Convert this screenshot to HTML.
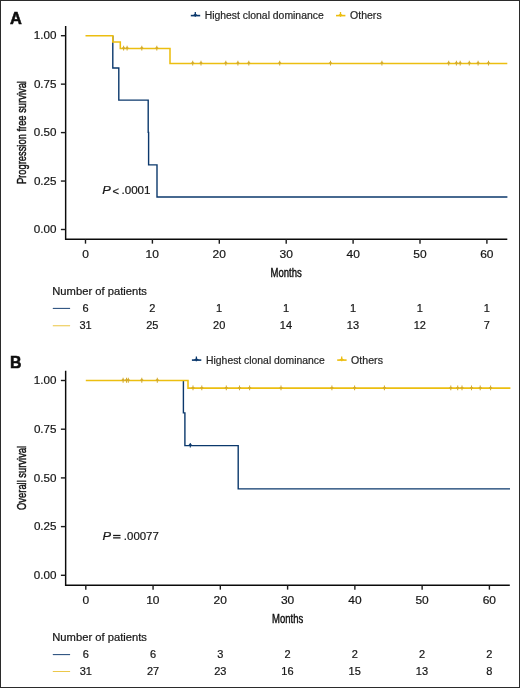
<!DOCTYPE html>
<html><head><meta charset="utf-8"><style>
html,body{margin:0;padding:0;background:#fff;}
body{width:520px;height:688px;overflow:hidden;}
svg{display:block;font-family:"Liberation Sans", sans-serif;will-change:transform;}
</style></head><body>
<svg width="520" height="688" viewBox="0 0 520 688">
<rect x="0" y="0" width="520" height="688" fill="#fff"/>
<text transform="translate(9.89,23.50) scale(1.006,1)" font-size="16.3" font-weight="bold" fill="#0d0d0d" stroke="#0d0d0d" stroke-width="0.55">A</text>
<path d="M65.65,26 V239.25 H507.3" fill="none" stroke="#0a0a0a" stroke-width="1.45"/>
<line x1="60.9" y1="35.70" x2="65.65" y2="35.70" stroke="#1a1a1a" stroke-width="1.4"/>
<text transform="translate(33.86,39.45) scale(1.070,1)" font-size="10.9" fill="#161616" stroke="#161616" stroke-width="0.2">1.00</text>
<line x1="60.9" y1="84.15" x2="65.65" y2="84.15" stroke="#1a1a1a" stroke-width="1.4"/>
<text transform="translate(33.89,87.90) scale(1.070,1)" font-size="10.9" fill="#161616" stroke="#161616" stroke-width="0.2">0.75</text>
<line x1="60.9" y1="132.60" x2="65.65" y2="132.60" stroke="#1a1a1a" stroke-width="1.4"/>
<text transform="translate(33.86,136.35) scale(1.070,1)" font-size="10.9" fill="#161616" stroke="#161616" stroke-width="0.2">0.50</text>
<line x1="60.9" y1="181.05" x2="65.65" y2="181.05" stroke="#1a1a1a" stroke-width="1.4"/>
<text transform="translate(33.89,184.80) scale(1.070,1)" font-size="10.9" fill="#161616" stroke="#161616" stroke-width="0.2">0.25</text>
<line x1="60.9" y1="229.50" x2="65.65" y2="229.50" stroke="#1a1a1a" stroke-width="1.4"/>
<text transform="translate(33.86,233.25) scale(1.070,1)" font-size="10.9" fill="#161616" stroke="#161616" stroke-width="0.2">0.00</text>
<line x1="85.50" y1="239.25" x2="85.50" y2="243.65" stroke="#1a1a1a" stroke-width="1.4"/>
<text transform="translate(82.17,257.70) scale(1.100,1)" font-size="10.9" fill="#161616" stroke="#161616" stroke-width="0.2">0</text>
<line x1="152.40" y1="239.25" x2="152.40" y2="243.65" stroke="#1a1a1a" stroke-width="1.4"/>
<text transform="translate(145.51,257.70) scale(1.100,1)" font-size="10.9" fill="#161616" stroke="#161616" stroke-width="0.2">10</text>
<line x1="219.30" y1="239.25" x2="219.30" y2="243.65" stroke="#1a1a1a" stroke-width="1.4"/>
<text transform="translate(212.56,257.70) scale(1.100,1)" font-size="10.9" fill="#161616" stroke="#161616" stroke-width="0.2">20</text>
<line x1="286.20" y1="239.25" x2="286.20" y2="243.65" stroke="#1a1a1a" stroke-width="1.4"/>
<text transform="translate(279.54,257.70) scale(1.100,1)" font-size="10.9" fill="#161616" stroke="#161616" stroke-width="0.2">30</text>
<line x1="353.10" y1="239.25" x2="353.10" y2="243.65" stroke="#1a1a1a" stroke-width="1.4"/>
<text transform="translate(346.53,257.70) scale(1.100,1)" font-size="10.9" fill="#161616" stroke="#161616" stroke-width="0.2">40</text>
<line x1="420.00" y1="239.25" x2="420.00" y2="243.65" stroke="#1a1a1a" stroke-width="1.4"/>
<text transform="translate(413.33,257.70) scale(1.100,1)" font-size="10.9" fill="#161616" stroke="#161616" stroke-width="0.2">50</text>
<line x1="486.90" y1="239.25" x2="486.90" y2="243.65" stroke="#1a1a1a" stroke-width="1.4"/>
<text transform="translate(480.16,257.70) scale(1.100,1)" font-size="10.9" fill="#161616" stroke="#161616" stroke-width="0.2">60</text>
<text transform="translate(286.20,276.7) scale(0.71,1)" text-anchor="middle" font-size="13.4" fill="#111" stroke="#111" stroke-width="0.45">Months</text>
<text transform="translate(25.75,132.60) rotate(-90) scale(0.70,1)" text-anchor="middle" font-size="13.4" fill="#111" stroke="#111" stroke-width="0.45">Progression free survival</text>
<line x1="190.8" y1="15.6" x2="200.20000000000002" y2="15.6" stroke="#0b386c" stroke-width="1.6"/>
<line x1="195.3" y1="12.0" x2="195.3" y2="16.8" stroke="#0b386c" stroke-width="1.3"/><path d="M192.60000000000002,15.6 L195.3,13.399999999999999 L198.0,15.6 Z" fill="#0b386c"/>
<text transform="translate(204.65,19.00) scale(1.001,1)" font-size="10.4" fill="#262626" stroke="#262626" stroke-width="0.2">Highest clonal dominance</text>
<line x1="336" y1="15.6" x2="345.4" y2="15.6" stroke="#ecbe10" stroke-width="1.6"/>
<line x1="340.5" y1="12.0" x2="340.5" y2="16.8" stroke="#ecbe10" stroke-width="1.3"/><path d="M337.8,15.6 L340.5,13.399999999999999 L343.2,15.6 Z" fill="#ecbe10"/>
<text transform="translate(350.00,19.00) scale(1.015,1)" font-size="10.4" fill="#262626" stroke="#262626" stroke-width="0.2">Others</text>
<path d="M112.8,35.7 V68 H118.8 V100.1 H148.2 V132.4 H148.6 V164.9 H157 V197 H507.4" fill="none" stroke="#0b386c" stroke-width="1.4"/>
<path d="M85.5,35.7 H112.8 V41.9 H120.3 V48.4 H170.0 V63.4 H507.3" fill="none" stroke="#ecbe10" stroke-width="1.55"/>
<path d="M123.6,45.699999999999996 V50.6 M122.19999999999999,48.4 L123.6,47.199999999999996 L125.0,48.4" stroke="#d4ab2c" stroke-width="1.05" fill="#e2b520"/>
<path d="M127.1,45.699999999999996 V50.6 M125.69999999999999,48.4 L127.1,47.199999999999996 L128.5,48.4" stroke="#d4ab2c" stroke-width="1.05" fill="#e2b520"/>
<path d="M141.8,45.699999999999996 V50.6 M140.4,48.4 L141.8,47.199999999999996 L143.20000000000002,48.4" stroke="#d4ab2c" stroke-width="1.05" fill="#e2b520"/>
<path d="M156.8,45.699999999999996 V50.6 M155.4,48.4 L156.8,47.199999999999996 L158.20000000000002,48.4" stroke="#d4ab2c" stroke-width="1.05" fill="#e2b520"/>
<path d="M192.7,60.699999999999996 V65.6 M191.29999999999998,63.4 L192.7,62.199999999999996 L194.1,63.4" stroke="#d4ab2c" stroke-width="1.05" fill="#e2b520"/>
<path d="M201,60.699999999999996 V65.6 M199.6,63.4 L201,62.199999999999996 L202.4,63.4" stroke="#d4ab2c" stroke-width="1.05" fill="#e2b520"/>
<path d="M225.8,60.699999999999996 V65.6 M224.4,63.4 L225.8,62.199999999999996 L227.20000000000002,63.4" stroke="#d4ab2c" stroke-width="1.05" fill="#e2b520"/>
<path d="M237.9,60.699999999999996 V65.6 M236.5,63.4 L237.9,62.199999999999996 L239.3,63.4" stroke="#d4ab2c" stroke-width="1.05" fill="#e2b520"/>
<path d="M248.8,60.699999999999996 V65.6 M247.4,63.4 L248.8,62.199999999999996 L250.20000000000002,63.4" stroke="#d4ab2c" stroke-width="1.05" fill="#e2b520"/>
<path d="M279.7,60.699999999999996 V65.6 M278.3,63.4 L279.7,62.199999999999996 L281.09999999999997,63.4" stroke="#d4ab2c" stroke-width="1.05" fill="#e2b520"/>
<path d="M330.5,60.699999999999996 V65.6 M329.1,63.4 L330.5,62.199999999999996 L331.9,63.4" stroke="#d4ab2c" stroke-width="1.05" fill="#e2b520"/>
<path d="M381.9,60.699999999999996 V65.6 M380.5,63.4 L381.9,62.199999999999996 L383.29999999999995,63.4" stroke="#d4ab2c" stroke-width="1.05" fill="#e2b520"/>
<path d="M448.7,60.699999999999996 V65.6 M447.3,63.4 L448.7,62.199999999999996 L450.09999999999997,63.4" stroke="#d4ab2c" stroke-width="1.05" fill="#e2b520"/>
<path d="M456.4,60.699999999999996 V65.6 M455.0,63.4 L456.4,62.199999999999996 L457.79999999999995,63.4" stroke="#d4ab2c" stroke-width="1.05" fill="#e2b520"/>
<path d="M460.2,60.699999999999996 V65.6 M458.8,63.4 L460.2,62.199999999999996 L461.59999999999997,63.4" stroke="#d4ab2c" stroke-width="1.05" fill="#e2b520"/>
<path d="M469.3,60.699999999999996 V65.6 M467.90000000000003,63.4 L469.3,62.199999999999996 L470.7,63.4" stroke="#d4ab2c" stroke-width="1.05" fill="#e2b520"/>
<path d="M478.1,60.699999999999996 V65.6 M476.70000000000005,63.4 L478.1,62.199999999999996 L479.5,63.4" stroke="#d4ab2c" stroke-width="1.05" fill="#e2b520"/>
<path d="M488.5,60.699999999999996 V65.6 M487.1,63.4 L488.5,62.199999999999996 L489.9,63.4" stroke="#d4ab2c" stroke-width="1.05" fill="#e2b520"/>
<text transform="translate(102.30,193.90) scale(1.180,1)" font-size="10.9" font-style="italic" fill="#161616" stroke="#161616" stroke-width="0.2">P</text>
<text transform="translate(112.55,194.90) scale(1.020,1)" font-size="10.9" fill="#161616" stroke="#161616" stroke-width="0.2">&lt;</text>
<text transform="translate(121.44,193.90) scale(1.068,1)" font-size="10.9" fill="#161616" stroke="#161616" stroke-width="0.2">.0001</text>
<text transform="translate(52.28,294.50) scale(1.079,1)" font-size="10.4" fill="#161616" stroke="#161616" stroke-width="0.2">Number of patients</text>
<line x1="52.8" y1="308.4" x2="70.1" y2="308.4" stroke="#234a7a" stroke-width="1.05"/>
<line x1="52.8" y1="325.75" x2="70.1" y2="325.75" stroke="#ecc84a" stroke-width="1.05"/>
<text transform="translate(82.40,311.90) scale(1.060,1)" font-size="10.4" fill="#161616" stroke="#161616" stroke-width="0.2">6</text>
<text transform="translate(79.43,329.25) scale(1.060,1)" font-size="10.4" fill="#161616" stroke="#161616" stroke-width="0.2">31</text>
<text transform="translate(149.33,311.90) scale(1.060,1)" font-size="10.4" fill="#161616" stroke="#161616" stroke-width="0.2">2</text>
<text transform="translate(146.22,329.25) scale(1.060,1)" font-size="10.4" fill="#161616" stroke="#161616" stroke-width="0.2">25</text>
<text transform="translate(216.08,311.90) scale(1.060,1)" font-size="10.4" fill="#161616" stroke="#161616" stroke-width="0.2">1</text>
<text transform="translate(213.11,329.25) scale(1.060,1)" font-size="10.4" fill="#161616" stroke="#161616" stroke-width="0.2">20</text>
<text transform="translate(282.98,311.90) scale(1.060,1)" font-size="10.4" fill="#161616" stroke="#161616" stroke-width="0.2">1</text>
<text transform="translate(279.81,329.25) scale(1.060,1)" font-size="10.4" fill="#161616" stroke="#161616" stroke-width="0.2">14</text>
<text transform="translate(349.88,311.90) scale(1.060,1)" font-size="10.4" fill="#161616" stroke="#161616" stroke-width="0.2">1</text>
<text transform="translate(346.79,329.25) scale(1.060,1)" font-size="10.4" fill="#161616" stroke="#161616" stroke-width="0.2">13</text>
<text transform="translate(416.78,311.90) scale(1.060,1)" font-size="10.4" fill="#161616" stroke="#161616" stroke-width="0.2">1</text>
<text transform="translate(413.73,329.25) scale(1.060,1)" font-size="10.4" fill="#161616" stroke="#161616" stroke-width="0.2">12</text>
<text transform="translate(483.68,311.90) scale(1.060,1)" font-size="10.4" fill="#161616" stroke="#161616" stroke-width="0.2">1</text>
<text transform="translate(483.83,329.25) scale(1.060,1)" font-size="10.4" fill="#161616" stroke="#161616" stroke-width="0.2">7</text>
<text transform="translate(10.04,368.30) scale(0.976,1)" font-size="16.3" font-weight="bold" fill="#0d0d0d" stroke="#0d0d0d" stroke-width="0.55">B</text>
<path d="M65.65,370.7 V585.25 H509.8" fill="none" stroke="#0a0a0a" stroke-width="1.45"/>
<line x1="60.9" y1="380.50" x2="65.65" y2="380.50" stroke="#1a1a1a" stroke-width="1.4"/>
<text transform="translate(33.86,384.25) scale(1.070,1)" font-size="10.9" fill="#161616" stroke="#161616" stroke-width="0.2">1.00</text>
<line x1="60.9" y1="429.20" x2="65.65" y2="429.20" stroke="#1a1a1a" stroke-width="1.4"/>
<text transform="translate(33.89,432.95) scale(1.070,1)" font-size="10.9" fill="#161616" stroke="#161616" stroke-width="0.2">0.75</text>
<line x1="60.9" y1="477.90" x2="65.65" y2="477.90" stroke="#1a1a1a" stroke-width="1.4"/>
<text transform="translate(33.86,481.65) scale(1.070,1)" font-size="10.9" fill="#161616" stroke="#161616" stroke-width="0.2">0.50</text>
<line x1="60.9" y1="526.60" x2="65.65" y2="526.60" stroke="#1a1a1a" stroke-width="1.4"/>
<text transform="translate(33.89,530.35) scale(1.070,1)" font-size="10.9" fill="#161616" stroke="#161616" stroke-width="0.2">0.25</text>
<line x1="60.9" y1="575.30" x2="65.65" y2="575.30" stroke="#1a1a1a" stroke-width="1.4"/>
<text transform="translate(33.86,579.05) scale(1.070,1)" font-size="10.9" fill="#161616" stroke="#161616" stroke-width="0.2">0.00</text>
<line x1="85.80" y1="585.25" x2="85.80" y2="589.65" stroke="#1a1a1a" stroke-width="1.4"/>
<text transform="translate(82.47,603.60) scale(1.100,1)" font-size="10.9" fill="#161616" stroke="#161616" stroke-width="0.2">0</text>
<line x1="153.07" y1="585.25" x2="153.07" y2="589.65" stroke="#1a1a1a" stroke-width="1.4"/>
<text transform="translate(146.18,603.60) scale(1.100,1)" font-size="10.9" fill="#161616" stroke="#161616" stroke-width="0.2">10</text>
<line x1="220.33" y1="585.25" x2="220.33" y2="589.65" stroke="#1a1a1a" stroke-width="1.4"/>
<text transform="translate(213.60,603.60) scale(1.100,1)" font-size="10.9" fill="#161616" stroke="#161616" stroke-width="0.2">20</text>
<line x1="287.60" y1="585.25" x2="287.60" y2="589.65" stroke="#1a1a1a" stroke-width="1.4"/>
<text transform="translate(280.94,603.60) scale(1.100,1)" font-size="10.9" fill="#161616" stroke="#161616" stroke-width="0.2">30</text>
<line x1="354.87" y1="585.25" x2="354.87" y2="589.65" stroke="#1a1a1a" stroke-width="1.4"/>
<text transform="translate(348.29,603.60) scale(1.100,1)" font-size="10.9" fill="#161616" stroke="#161616" stroke-width="0.2">40</text>
<line x1="422.13" y1="585.25" x2="422.13" y2="589.65" stroke="#1a1a1a" stroke-width="1.4"/>
<text transform="translate(415.46,603.60) scale(1.100,1)" font-size="10.9" fill="#161616" stroke="#161616" stroke-width="0.2">50</text>
<line x1="489.40" y1="585.25" x2="489.40" y2="589.65" stroke="#1a1a1a" stroke-width="1.4"/>
<text transform="translate(482.66,603.60) scale(1.100,1)" font-size="10.9" fill="#161616" stroke="#161616" stroke-width="0.2">60</text>
<text transform="translate(287.60,622.8) scale(0.71,1)" text-anchor="middle" font-size="13.4" fill="#111" stroke="#111" stroke-width="0.45">Months</text>
<text transform="translate(25.75,477.90) rotate(-90) scale(0.70,1)" text-anchor="middle" font-size="13.4" fill="#111" stroke="#111" stroke-width="0.45">Overall survival</text>
<line x1="191.9" y1="360.1" x2="201.3" y2="360.1" stroke="#0b386c" stroke-width="1.6"/>
<line x1="196.4" y1="356.5" x2="196.4" y2="361.3" stroke="#0b386c" stroke-width="1.3"/><path d="M193.70000000000002,360.1 L196.4,357.90000000000003 L199.1,360.1 Z" fill="#0b386c"/>
<text transform="translate(206.05,363.50) scale(0.999,1)" font-size="10.4" fill="#262626" stroke="#262626" stroke-width="0.2">Highest clonal dominance</text>
<line x1="337.2" y1="360.1" x2="346.59999999999997" y2="360.1" stroke="#ecbe10" stroke-width="1.6"/>
<line x1="341.7" y1="356.5" x2="341.7" y2="361.3" stroke="#ecbe10" stroke-width="1.3"/><path d="M339.0,360.1 L341.7,357.90000000000003 L344.4,360.1 Z" fill="#ecbe10"/>
<text transform="translate(351.10,363.50) scale(1.022,1)" font-size="10.4" fill="#262626" stroke="#262626" stroke-width="0.2">Others</text>
<path d="M183.4,380.5 V412.9 H184.9 V445.6 H238.2 V488.9 H510" fill="none" stroke="#0b386c" stroke-width="1.4"/>
<path d="M190.3,442.90000000000003 V447.6 M188.70000000000002,445.6 L190.3,444.1 L191.9,445.6" stroke="#0b386c" stroke-width="1.1" fill="#0b386c"/>
<path d="M85.8,380.5 H188 V388.1 H510.4" fill="none" stroke="#ecbe10" stroke-width="1.55"/>
<path d="M123.1,377.8 V382.7 M121.69999999999999,380.5 L123.1,379.3 L124.5,380.5" stroke="#d4ab2c" stroke-width="1.05" fill="#e2b520"/>
<path d="M126.5,377.8 V382.7 M125.1,380.5 L126.5,379.3 L127.9,380.5" stroke="#d4ab2c" stroke-width="1.05" fill="#e2b520"/>
<path d="M128.3,377.8 V382.7 M126.9,380.5 L128.3,379.3 L129.70000000000002,380.5" stroke="#d4ab2c" stroke-width="1.05" fill="#e2b520"/>
<path d="M141.8,377.8 V382.7 M140.4,380.5 L141.8,379.3 L143.20000000000002,380.5" stroke="#d4ab2c" stroke-width="1.05" fill="#e2b520"/>
<path d="M157.3,377.8 V382.7 M155.9,380.5 L157.3,379.3 L158.70000000000002,380.5" stroke="#d4ab2c" stroke-width="1.05" fill="#e2b520"/>
<path d="M193,385.40000000000003 V390.3 M191.6,388.1 L193,386.90000000000003 L194.4,388.1" stroke="#d4ab2c" stroke-width="1.05" fill="#e2b520"/>
<path d="M201.8,385.40000000000003 V390.3 M200.4,388.1 L201.8,386.90000000000003 L203.20000000000002,388.1" stroke="#d4ab2c" stroke-width="1.05" fill="#e2b520"/>
<path d="M226.3,385.40000000000003 V390.3 M224.9,388.1 L226.3,386.90000000000003 L227.70000000000002,388.1" stroke="#d4ab2c" stroke-width="1.05" fill="#e2b520"/>
<path d="M239.5,385.40000000000003 V390.3 M238.1,388.1 L239.5,386.90000000000003 L240.9,388.1" stroke="#d4ab2c" stroke-width="1.05" fill="#e2b520"/>
<path d="M249.6,385.40000000000003 V390.3 M248.2,388.1 L249.6,386.90000000000003 L251.0,388.1" stroke="#d4ab2c" stroke-width="1.05" fill="#e2b520"/>
<path d="M281,385.40000000000003 V390.3 M279.6,388.1 L281,386.90000000000003 L282.4,388.1" stroke="#d4ab2c" stroke-width="1.05" fill="#e2b520"/>
<path d="M331.9,385.40000000000003 V390.3 M330.5,388.1 L331.9,386.90000000000003 L333.29999999999995,388.1" stroke="#d4ab2c" stroke-width="1.05" fill="#e2b520"/>
<path d="M354.6,385.40000000000003 V390.3 M353.20000000000005,388.1 L354.6,386.90000000000003 L356.0,388.1" stroke="#d4ab2c" stroke-width="1.05" fill="#e2b520"/>
<path d="M384.4,385.40000000000003 V390.3 M383.0,388.1 L384.4,386.90000000000003 L385.79999999999995,388.1" stroke="#d4ab2c" stroke-width="1.05" fill="#e2b520"/>
<path d="M450.8,385.40000000000003 V390.3 M449.40000000000003,388.1 L450.8,386.90000000000003 L452.2,388.1" stroke="#d4ab2c" stroke-width="1.05" fill="#e2b520"/>
<path d="M457.7,385.40000000000003 V390.3 M456.3,388.1 L457.7,386.90000000000003 L459.09999999999997,388.1" stroke="#d4ab2c" stroke-width="1.05" fill="#e2b520"/>
<path d="M462,385.40000000000003 V390.3 M460.6,388.1 L462,386.90000000000003 L463.4,388.1" stroke="#d4ab2c" stroke-width="1.05" fill="#e2b520"/>
<path d="M471.5,385.40000000000003 V390.3 M470.1,388.1 L471.5,386.90000000000003 L472.9,388.1" stroke="#d4ab2c" stroke-width="1.05" fill="#e2b520"/>
<path d="M480.2,385.40000000000003 V390.3 M478.8,388.1 L480.2,386.90000000000003 L481.59999999999997,388.1" stroke="#d4ab2c" stroke-width="1.05" fill="#e2b520"/>
<path d="M490.6,385.40000000000003 V390.3 M489.20000000000005,388.1 L490.6,386.90000000000003 L492.0,388.1" stroke="#d4ab2c" stroke-width="1.05" fill="#e2b520"/>
<text transform="translate(102.60,539.80) scale(1.180,1)" font-size="10.9" font-style="italic" fill="#161616" stroke="#161616" stroke-width="0.2">P</text>
<rect x="113.1" y="534.85" width="7.40" height="1.25" fill="#161616"/>
<rect x="113.1" y="537.25" width="7.40" height="1.25" fill="#161616"/>
<text transform="translate(123.85,539.80) scale(1.050,1)" font-size="10.9" fill="#161616" stroke="#161616" stroke-width="0.2">.00077</text>
<text transform="translate(52.28,640.80) scale(1.079,1)" font-size="10.4" fill="#161616" stroke="#161616" stroke-width="0.2">Number of patients</text>
<line x1="52.8" y1="654.6" x2="70.1" y2="654.6" stroke="#234a7a" stroke-width="1.05"/>
<line x1="52.8" y1="671.5" x2="70.1" y2="671.5" stroke="#ecc84a" stroke-width="1.05"/>
<text transform="translate(82.70,658.10) scale(1.060,1)" font-size="10.4" fill="#161616" stroke="#161616" stroke-width="0.2">6</text>
<text transform="translate(79.73,675.00) scale(1.060,1)" font-size="10.4" fill="#161616" stroke="#161616" stroke-width="0.2">31</text>
<text transform="translate(149.96,658.10) scale(1.060,1)" font-size="10.4" fill="#161616" stroke="#161616" stroke-width="0.2">6</text>
<text transform="translate(146.94,675.00) scale(1.060,1)" font-size="10.4" fill="#161616" stroke="#161616" stroke-width="0.2">27</text>
<text transform="translate(217.30,658.10) scale(1.060,1)" font-size="10.4" fill="#161616" stroke="#161616" stroke-width="0.2">3</text>
<text transform="translate(214.17,675.00) scale(1.060,1)" font-size="10.4" fill="#161616" stroke="#161616" stroke-width="0.2">23</text>
<text transform="translate(284.53,658.10) scale(1.060,1)" font-size="10.4" fill="#161616" stroke="#161616" stroke-width="0.2">2</text>
<text transform="translate(281.29,675.00) scale(1.060,1)" font-size="10.4" fill="#161616" stroke="#161616" stroke-width="0.2">16</text>
<text transform="translate(351.80,658.10) scale(1.060,1)" font-size="10.4" fill="#161616" stroke="#161616" stroke-width="0.2">2</text>
<text transform="translate(348.55,675.00) scale(1.060,1)" font-size="10.4" fill="#161616" stroke="#161616" stroke-width="0.2">15</text>
<text transform="translate(419.07,658.10) scale(1.060,1)" font-size="10.4" fill="#161616" stroke="#161616" stroke-width="0.2">2</text>
<text transform="translate(415.82,675.00) scale(1.060,1)" font-size="10.4" fill="#161616" stroke="#161616" stroke-width="0.2">13</text>
<text transform="translate(486.33,658.10) scale(1.060,1)" font-size="10.4" fill="#161616" stroke="#161616" stroke-width="0.2">2</text>
<text transform="translate(486.33,675.00) scale(1.060,1)" font-size="10.4" fill="#161616" stroke="#161616" stroke-width="0.2">8</text>
<rect x="0.5" y="0.5" width="519" height="687" fill="none" stroke="#2b2b2b" stroke-width="1"/>
</svg>
</body></html>
